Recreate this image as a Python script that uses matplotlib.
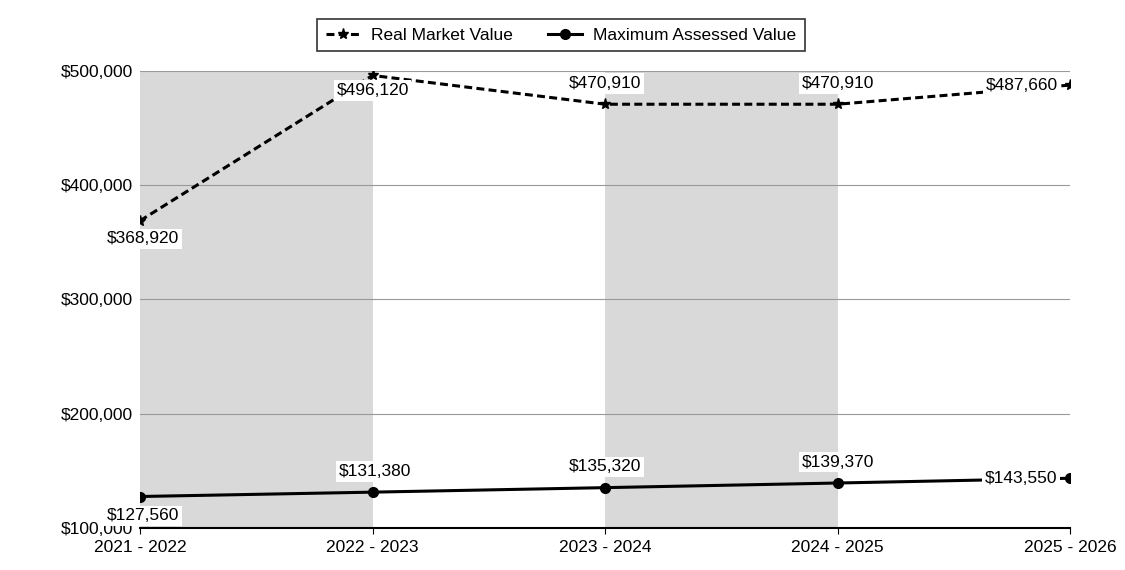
import matplotlib
matplotlib.use("Agg")
import matplotlib.pyplot as plt
from matplotlib.ticker import FuncFormatter

plt.rcParams['font.family'] = ['Liberation Sans', 'DejaVu Sans']

years = ["2021 - 2022", "2022 - 2023", "2023 - 2024", "2024 - 2025", "2025 - 2026"]
real_market = [368920, 496120, 470910, 470910, 487660]
max_assessed = [127560, 131380, 135320, 139370, 143550]

fs = 12.5

fig = plt.figure(figsize=(11.25, 5.7), dpi=100)
ax = fig.add_axes([140/1125, 1 - 528/570, (1070-140)/1125, (528-71)/570])

x = list(range(len(years)))
# shaded bands
for i in (0, 2):
    ax.axvspan(x[i], x[i+1], color='#d9d9d9', zorder=0, lw=0)

ax.plot(x, real_market, ls=(0, (2.6, 1.4)), color='black', lw=2.2, marker='*', ms=8,
        label='Real Market Value', zorder=3)
ax.plot(x, max_assessed, ls='-', color='black', lw=2.2, marker='o', ms=7,
        label='Maximum Assessed Value', zorder=3)

ax.set_xlim(0, 4)
ax.set_ylim(100000, 500000)
ax.set_yticks([100000, 200000, 300000, 400000, 500000])
ax.yaxis.set_major_formatter(FuncFormatter(lambda v, p: f"${v:,.0f}"))
ax.set_xticks(x)
ax.set_xticklabels(years)
ax.grid(axis='y', color='#999999', lw=0.8, zorder=1)
ax.set_axisbelow(True)
for s in ('top', 'right', 'left'):
    ax.spines[s].set_visible(False)
ax.spines['bottom'].set_linewidth(1.5)
ax.spines['bottom'].set_zorder(4)
ax.tick_params(axis='y', length=0, labelsize=fs, pad=5)
ax.tick_params(axis='x', length=4, labelsize=fs, pad=5)

bbox = dict(facecolor='white', edgecolor='none', pad=2)
def lab(xi, yi, dx, dy, ha):
    ax.annotate(f"${yi:,.0f}", (xi, yi), xytext=(dx, dy), textcoords='offset points',
                ha=ha, va='center', fontsize=fs, bbox=bbox, zorder=5)

# Real market labels
lab(x[0], real_market[0], 2, -13, 'center')
lab(x[1], real_market[1], 0, -11, 'center')
lab(x[2], real_market[2], 0, 15, 'center')
lab(x[3], real_market[3], 0, 15, 'center')
lab(x[4], real_market[4], -9, 0, 'right')
# Max assessed labels
lab(x[0], max_assessed[0], 2, -14, 'center')
lab(x[1], max_assessed[1], 2, 15, 'center')
lab(x[2], max_assessed[2], 0, 15, 'center')
lab(x[3], max_assessed[3], 0, 15, 'center')
lab(x[4], max_assessed[4], -9, 0, 'right')

leg = fig.legend(loc='center', bbox_to_anchor=(561/1125, 1 - 35/570), ncol=2, frameon=True,
                 fancybox=False, edgecolor='black', fontsize=fs, handlelength=2.0,
                 handletextpad=0.6, columnspacing=2.0, borderpad=0.5)
leg.get_frame().set_linewidth(1.2)

fig.savefig("out.png", dpi=100)
